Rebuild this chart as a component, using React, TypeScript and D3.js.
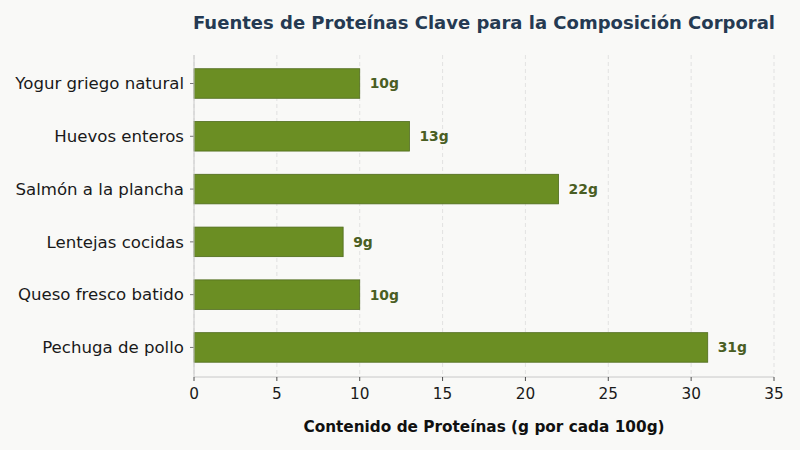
import React, { useEffect } from 'react';
import * as d3 from 'd3';

const categories = [
  'Yogur griego natural',
  'Huevos enteros',
  'Salmón a la plancha',
  'Lentejas cocidas',
  'Queso fresco batido',
  'Pechuga de pollo',
];
const protein = [10, 13, 22, 9, 10, 31];
const xTicks = [0, 5, 10, 15, 20, 25, 30, 35];

const W = 800;
const H = 450;
const margin = { top: 55, right: 26, bottom: 73, left: 194 };
const font = 'DejaVu Sans, sans-serif';
const bg = '#f9f9f7';

export default function App() {
  useEffect(() => {
    document.body.style.margin = '0';
    document.body.style.background = bg;
  }, []);

  const w = W - margin.left - margin.right;
  const h = H - margin.top - margin.bottom;
  const x = d3.scaleLinear().domain([0, 35]).range([0, w]);
  // index 0 at the top, bars ~0.56 of the step
  const y = d3.scaleLinear().domain([-0.54, categories.length - 1 + 0.56]).range([0, h]);
  const barH = y(0.56) - y(0);

  return (
    <div style={{ position: 'absolute', left: 0, top: 0, width: W, height: H, background: bg }}>
      <svg width={W} height={H} style={{ display: 'block', fontFamily: font }}>
        <rect width={W} height={H} fill={bg} />
        <text x={margin.left + w / 2} y={29} textAnchor="middle" fontSize={18} fontWeight="bold" fill="#253a52">
          Fuentes de Proteínas Clave para la Composición Corporal
        </text>
        <g transform={`translate(${margin.left},${margin.top})`}>
          {xTicks.map(t => (
            <line key={'g' + t} x1={x(t)} x2={x(t)} y1={0} y2={h} stroke="#dcdcdc" strokeDasharray="4,3" strokeWidth={0.8} />
          ))}
          {categories.map((c, i) => (
            <g key={c}>
              <rect x={x(0)} y={y(i) - barH / 2} width={x(protein[i]) - x(0)} height={barH}
                fill="#6b8e23" stroke="#4f6b1c" strokeWidth={0.8} />
              <text x={x(protein[i]) + 10} y={y(i)} dy="0.35em" fontSize={13.9} fontWeight="bold" fill="#4a5e23">
                {protein[i]}g
              </text>
              <line x1={-4} x2={0} y1={y(i)} y2={y(i)} stroke="#555" strokeWidth={0.8} />
              <text x={-10} y={y(i)} dy="0.35em" textAnchor="end" fontSize={16.6} fill="#1a1a1a">{c}</text>
            </g>
          ))}
          <line x1={0} x2={0} y1={0} y2={h} stroke="#c8c8c8" strokeWidth={1} />
          <line x1={0} x2={w} y1={h} y2={h} stroke="#c8c8c8" strokeWidth={1} />
          {xTicks.map(t => (
            <g key={'t' + t}>
              <line x1={x(t)} x2={x(t)} y1={h} y2={h + 4} stroke="#222" strokeWidth={0.8} />
              <text x={x(t)} y={h + 22} textAnchor="middle" fontSize={15.3} fill="#1a1a1a">{t}</text>
            </g>
          ))}
          <text x={w / 2} y={h + 55} textAnchor="middle" fontSize={15.3} fontWeight="bold" fill="#111">
            Contenido de Proteínas (g por cada 100g)
          </text>
        </g>
      </svg>
    </div>
  );
}
